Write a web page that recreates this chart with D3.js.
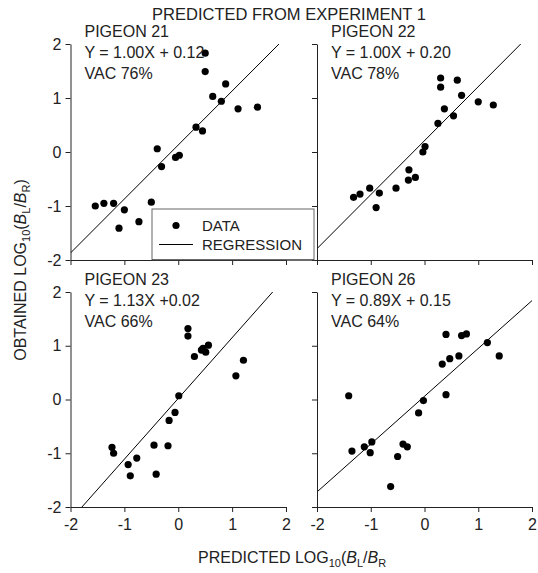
<!DOCTYPE html>
<html>
<head>
<meta charset="utf-8">
<script src="https://cdn.jsdelivr.net/npm/d3@7"></script>
<style>
  body { margin: 0; background: #fff; }
  svg text { font-family: "Liberation Sans", Arial, sans-serif; fill: #222; }
</style>
</head>
<body>
<svg id="chart" width="538" height="573"></svg>
<script>
// data
var pigeons = ['PIGEON 21', 'PIGEON 22', 'PIGEON 23', 'PIGEON 26'];
var equations = ['Y = 1.00X + 0.12', 'Y = 1.00X + 0.20', 'Y = 1.13X +0.02', 'Y = 0.89X + 0.15'];
var vacs = ['VAC 76%', 'VAC 78%', 'VAC 66%', 'VAC 64%'];
var slopes = [1.00, 1.00, 1.13, 0.89];
var intercepts = [0.13, 0.21, 0.02, 0.06];
var tickValues = [-2, -1, 0, 1, 2];

var p21x = [-1.54, -1.38, -1.20, -1.10, -1.00, -0.73, -0.50, -0.39, -0.31, -0.05, 0.02, 0.33, 0.45, 0.50, 0.50, 0.64, 0.80, 0.88, 1.11, 1.47];
var p21y = [-1.00, -0.95, -0.95, -1.41, -1.07, -1.29, -0.93, 0.06, -0.27, -0.10, -0.06, 0.46, 0.39, 1.83, 1.49, 1.03, 0.94, 1.26, 0.80, 0.83];

var p22x = [-1.32, -1.20, -1.02, -0.90, -0.84, -0.53, -0.30, -0.29, -0.17, -0.03, 0.01, 0.25, 0.30, 0.30, 0.37, 0.54, 0.61, 0.69, 1.00, 1.28];
var p22y = [-0.84, -0.78, -0.67, -1.03, -0.76, -0.67, -0.52, -0.33, -0.47, 0.00, 0.10, 0.53, 1.37, 1.20, 0.80, 0.67, 1.33, 1.05, 0.93, 0.87];

var p23x = [-1.23, -1.20, -0.93, -0.89, -0.77, -0.45, -0.41, -0.19, -0.17, -0.06, 0.01, 0.18, 0.18, 0.30, 0.43, 0.46, 0.51, 0.56, 1.07, 1.21];
var p23y = [-0.89, -1.00, -1.21, -1.42, -1.09, -0.85, -1.39, -0.86, -0.39, -0.24, 0.07, 1.32, 1.18, 0.80, 0.92, 0.95, 0.88, 1.01, 0.44, 0.73];

var p26x = [-1.41, -1.35, -1.12, -1.01, -0.98, -0.63, -0.50, -0.40, -0.32, -0.11, -0.02, 0.33, 0.40, 0.40, 0.47, 0.64, 0.69, 0.78, 1.17, 1.39];
var p26y = [0.07, -0.96, -0.88, -0.99, -0.79, -1.62, -1.06, -0.83, -0.88, -0.25, -0.02, 0.66, 1.21, 0.09, 0.76, 0.81, 1.19, 1.22, 1.06, 0.81];

var xs = [p21x, p22x, p23x, p26x];
var ys = [p21y, p22y, p23y, p26y];

var svg = d3.select('#chart');

// panel frames: [x-left, x-right, y-top, y-bottom]
var frames = [
  [70.5, 286, 44, 260],
  [317, 532, 44, 260],
  [70.5, 286, 292, 507],
  [317, 532, 292, 507]
];

var plainFormat = function(d) { return String(d); };

frames.forEach(function(f, i) {
  var x = d3.scaleLinear().domain([-2, 2]).range([f[0], f[1]]);
  var y = d3.scaleLinear().domain([-2, 2]).range([f[3], f[2]]);
  var g = svg.append('g');

  svg.append('clipPath').attr('id', 'clip' + i)
    .append('rect')
      .attr('x', f[0]).attr('y', f[2])
      .attr('width', f[1] - f[0]).attr('height', f[3] - f[2]);

  // regression line
  var line = d3.line().x(function(d) { return x(d); })
    .y(function(d) { return y(slopes[i] * d + intercepts[i]); });
  g.append('path')
    .datum([-2, 2])
    .attr('d', line)
    .attr('clip-path', 'url(#clip' + i + ')')
    .attr('fill', 'none')
    .attr('stroke', '#000')
    .attr('stroke-width', 1);

  var yAxis = d3.axisLeft(y).tickValues(tickValues).tickSize(5).tickSizeOuter(0)
    .tickFormat(i % 2 === 0 ? plainFormat : '');
  var xAxis = d3.axisBottom(x).tickValues(tickValues).tickSize(5).tickSizeOuter(0)
    .tickFormat(i >= 2 ? plainFormat : '');

  var ya = g.append('g').attr('transform', 'translate(' + f[0] + ',0)').call(yAxis);
  var xa = g.append('g').attr('transform', 'translate(0,' + f[3] + ')').call(xAxis);
  [ya, xa].forEach(function(a) {
    a.selectAll('path, line').attr('stroke', '#222');
    a.selectAll('text')
      .style('font-size', '16px')
      .style('font-family', '"Liberation Sans", Arial, sans-serif')
      .attr('fill', '#222');
  });
  ya.selectAll('text').attr('x', -9);
  xa.selectAll('text').attr('y', 12);

  g.selectAll('circle')
    .data(xs[i])
    .enter()
    .append('circle')
      .attr('cx', function(d) { return x(d); })
      .attr('cy', function(d, j) { return y(ys[i][j]); })
      .attr('r', 3.6)
      .attr('fill', '#000');

  [pigeons[i], equations[i], vacs[i]].forEach(function(t, k) {
    g.append('text')
      .attr('x', f[0] + 14)
      .attr('y', f[2] - 7 + k * 21)
      .style('font-size', '16px')
      .text(t);
  });
});

// legend
var leg = svg.append('g');
leg.append('rect')
  .attr('x', 152).attr('y', 209)
  .attr('width', 162).attr('height', 51)
  .attr('fill', '#fff')
  .attr('stroke', '#666')
  .attr('stroke-width', 1);
leg.append('circle').attr('cx', 176).attr('cy', 225.5).attr('r', 3.6).attr('fill', '#000');
leg.append('line').attr('x1', 159).attr('x2', 193).attr('y1', 244.5).attr('y2', 244.5)
  .attr('stroke', '#000').attr('stroke-width', 1);
leg.append('text').attr('x', 202).attr('y', 231).style('font-size', '15px').text('DATA');
leg.append('text').attr('x', 202).attr('y', 250).style('font-size', '15px').text('REGRESSION');
// axis segment along the bottom of the box
svg.append('line').attr('x1', 152).attr('x2', 314).attr('y1', 260).attr('y2', 260)
  .attr('stroke', '#222');

// titles
svg.append('text')
  .attr('x', 289).attr('y', 20)
  .attr('text-anchor', 'middle')
  .style('font-size', '16.5px')
  .text('PREDICTED FROM EXPERIMENT 1');

var xt = svg.append('text')
  .attr('x', 198).attr('y', 563)
  .style('font-size', '16px');
xt.append('tspan').text('PREDICTED LOG');
xt.append('tspan').attr('dy', 4).style('font-size', '11px').text('10');
xt.append('tspan').attr('dy', -4).text('(');
xt.append('tspan').style('font-style', 'italic').text('B');
xt.append('tspan').attr('dy', 4).style('font-size', '11px').text('L');
xt.append('tspan').attr('dy', -4).text('/');
xt.append('tspan').style('font-style', 'italic').text('B');
xt.append('tspan').attr('dy', 4).style('font-size', '11px').text('R');

var yt = svg.append('text')
  .attr('transform', 'translate(26,270) rotate(-90)')
  .attr('text-anchor', 'middle')
  .style('font-size', '16px');
yt.append('tspan').text('OBTAINED LOG');
yt.append('tspan').attr('dy', 4).style('font-size', '11px').text('10');
yt.append('tspan').attr('dy', -4).text('(');
yt.append('tspan').style('font-style', 'italic').text('B');
yt.append('tspan').attr('dy', 4).style('font-size', '11px').text('L');
yt.append('tspan').attr('dy', -4).text('/');
yt.append('tspan').style('font-style', 'italic').text('B');
yt.append('tspan').attr('dy', 4).style('font-size', '11px').text('R');
yt.append('tspan').attr('dy', -4).text(')');
</script>
</body>
</html>
